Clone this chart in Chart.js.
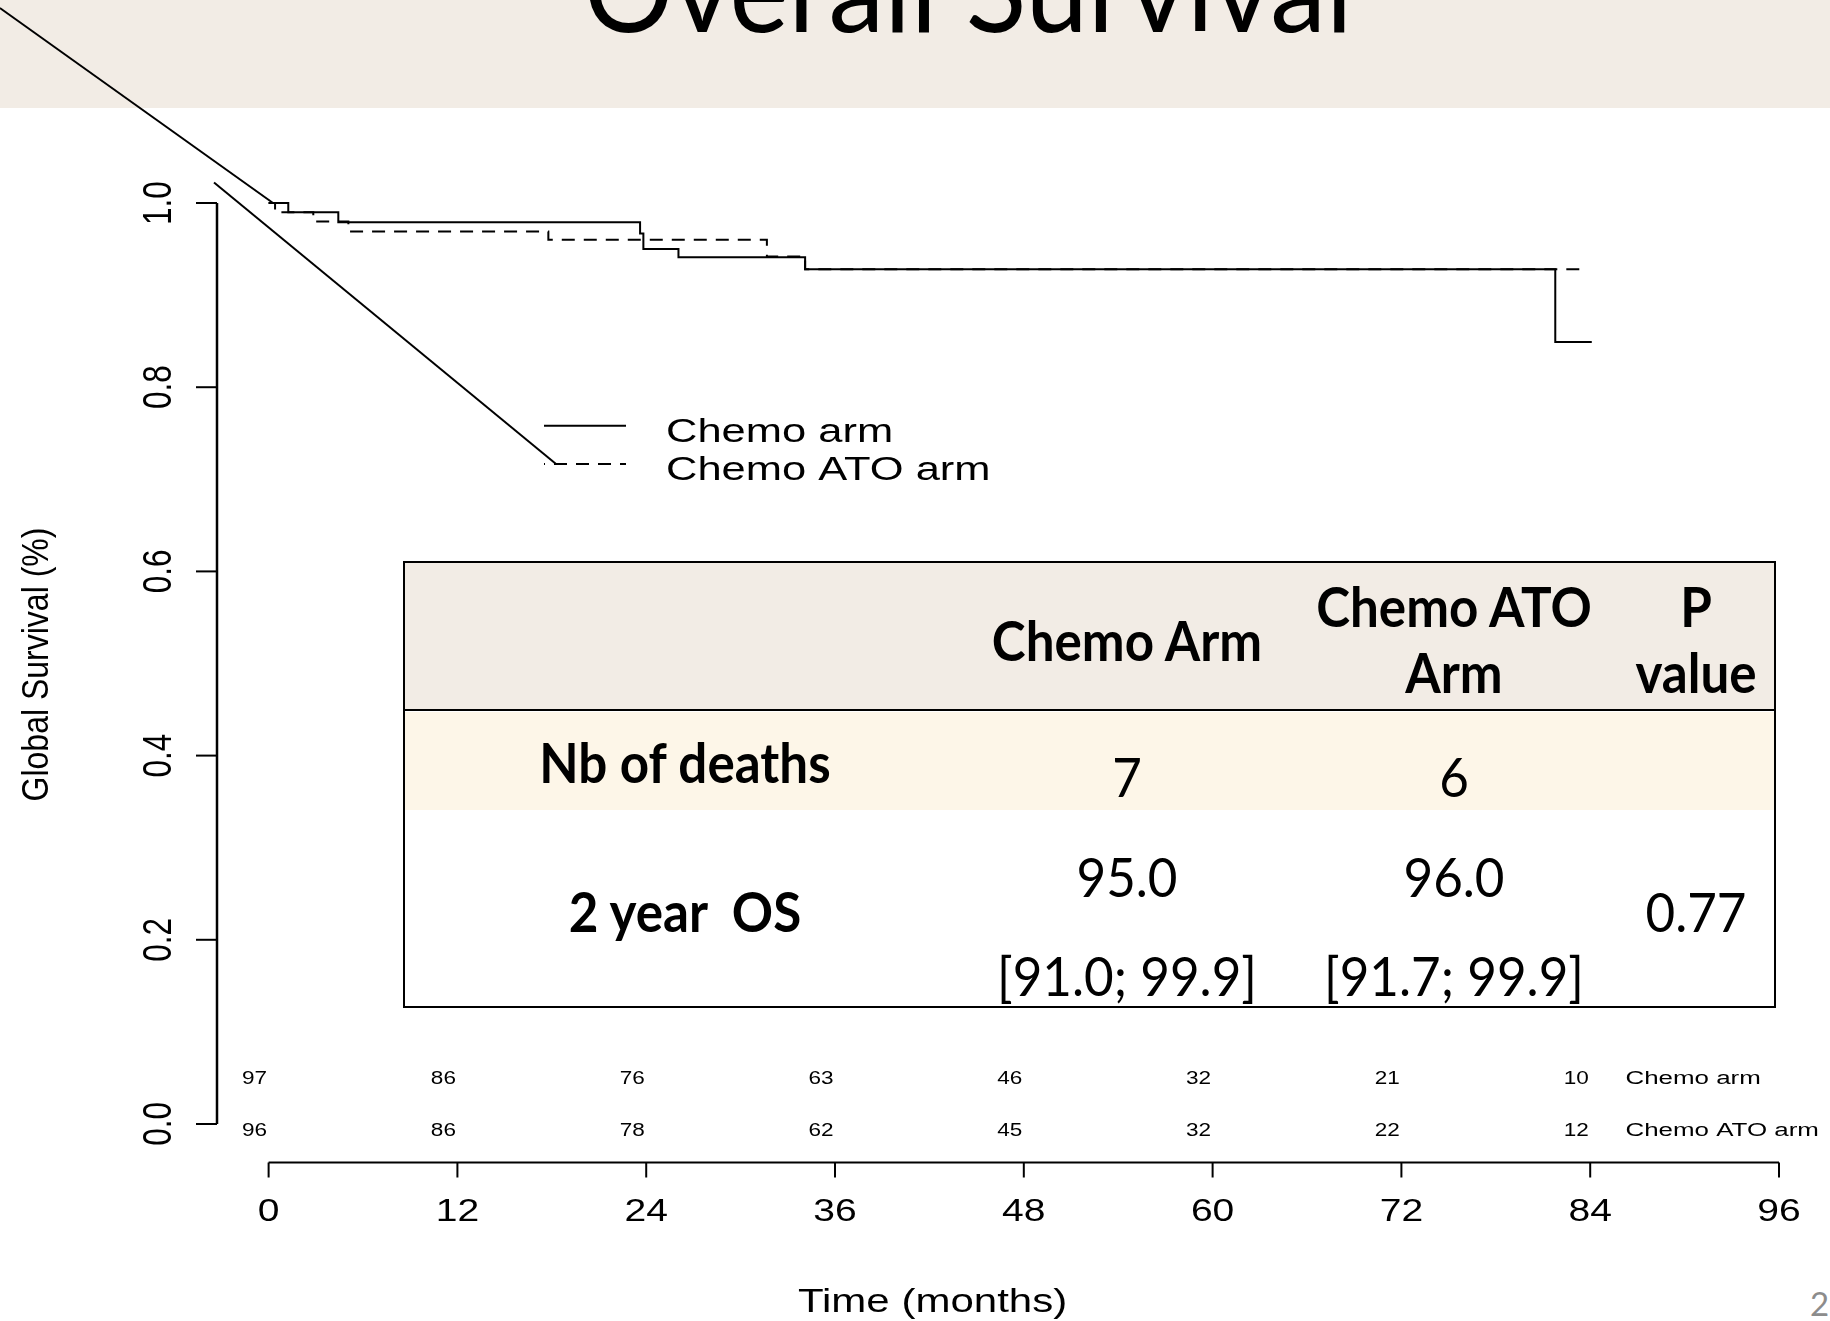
<!DOCTYPE html>
<html>
<head>
<meta charset="utf-8">
<title>Overall Survival</title>
<script src="https://cdn.jsdelivr.net/npm/chart.js@4.4.1/dist/chart.umd.min.js"></script>
<style>
  html, body { margin: 0; padding: 0; background: #fff; overflow: hidden; }
  #page { position: relative; width: 1830px; height: 1321px; overflow: hidden; background: #fff; }
  #band { position: absolute; left: 0; top: 0; width: 1830px; height: 108px; background: #F2ECE5; }
  .t { position: absolute; white-space: nowrap; line-height: 1; transform-origin: 50% 50%;
       font-family: Lato, "Open Sans", sans-serif; color: #000; }
  #box { position: absolute; left: 403px; top: 561px; width: 1373px; height: 447px;
         box-sizing: border-box; border: 2.5px solid #000; background: #fff; }
  #head { position: absolute; left: 0; top: 0; right: 0; height: 146px; background: #F2ECE5;
          border-bottom: 2.5px solid #000; }
  #row2 { position: absolute; left: 0; top: 148.5px; right: 0; height: 98px; background: #FDF6E8; }
  #chart { position: absolute; left: 0; top: 0; z-index: 5; pointer-events: none; }
  #slideNo { position: absolute; left: 1810px; top: 1287px; font: 33px Lato, sans-serif; color: #8c8c8c; line-height: 1; }
</style>
</head>
<body>
<div id="page">
  <div id="band"></div>
  <div id="box"><div id="head"></div><div id="row2"></div></div>
  <div id="slideNo">23</div>
  <canvas id="chart" width="1830" height="1321"></canvas>
</div>
<script>
// Kaplan-Meier steps: month of each event and survival after it
const chemoMonths   = [0, 1.25, 4.43, 23.61, 23.82, 26.05, 34.10, 81.78, 84.10];
const chemoSurvival = [1.000, 0.990, 0.979, 0.967, 0.950, 0.941, 0.928, 0.849, 0.849];
const atoMonths     = [0, 0.41, 2.84, 5.07, 17.78, 31.67, 34.10, 83.60];
const atoSurvival   = [1.000, 0.990, 0.980, 0.969, 0.960, 0.942, 0.928, 0.928];

// axes
const monthTicks    = [0, 12, 24, 36, 48, 60, 72, 84, 96];
const survivalTicks = [0.0, 0.2, 0.4, 0.6, 0.8, 1.0];
const riskMonths    = [0, 12, 24, 36, 48, 60, 72, 84];

// numbers at risk
const atRiskChemo = [97, 86, 76, 63, 46, 32, 21, 10];
const atRiskAto   = [96, 86, 78, 62, 45, 32, 22, 12];
const armNames    = ['Chemo arm', 'Chemo ATO arm'];

// summary table
const deaths    = [7, 6];
const os2Year   = ['95.0', '96.0'];
const os2YearCI = ['[91.0; 99.9]', '[91.7; 99.9]'];
const pValue    = '0.77';

const ARIAL = '"Liberation Sans", Arial, Helvetica, sans-serif';

// text drawn with a horizontal stretch; (cx, cy) is the cap-height centre
function stretchText(ctx, str, cx, cy, size, sx, align, angle) {
  ctx.save();
  ctx.translate(cx, cy);
  ctx.scale(sx, 1);
  if (angle) ctx.rotate(angle);
  ctx.font = size + 'px ' + ARIAL;
  ctx.textAlign = align;
  ctx.textBaseline = 'alphabetic';
  ctx.fillText(str, 0, 0.358 * size);
  ctx.restore();
}

function seg(ctx, x1, y1, x2, y2) {
  ctx.beginPath(); ctx.moveTo(x1, y1); ctx.lineTo(x2, y2); ctx.stroke();
}

// pointer strokes from the slide, in chart units (month, survival)
const pointerA = [[-17.08, 1.2117], [0.28, 1.0]];
const pointerB = [[-3.47, 1.0223], [18.27, 0.7166]];

const survivalDecor = {
  id: 'survivalDecor',
  afterDraw(chart) {
    const { ctx, chartArea: ca, scales: { x, y } } = chart;
    ctx.save();
    ctx.strokeStyle = '#000';
    ctx.fillStyle = '#000';
    ctx.lineCap = 'butt';

    // y axis
    ctx.lineWidth = 2.5;
    const ax = ca.left;
    seg(ctx, ax, y.getPixelForValue(0), ax, y.getPixelForValue(1));
    ctx.lineWidth = 2;
    survivalTicks.forEach(v => {
      const py = y.getPixelForValue(v);
      seg(ctx, ax - 21, py, ax, py);
      stretchText(ctx, v.toFixed(1), ax - 61, py, 31.5, 1.3, 'center', -Math.PI / 2);
    });
    stretchText(ctx, 'Global Survival (%)', 35, y.getPixelForValue(0.5) + 1, 32, 1.15, 'center', -Math.PI / 2);

    // x axis
    const ay = ca.bottom + 1.5;
    ctx.lineWidth = 2.2;
    seg(ctx, x.getPixelForValue(0), ay, x.getPixelForValue(96), ay);
    ctx.lineWidth = 2;
    monthTicks.forEach(m => {
      const px = x.getPixelForValue(m);
      seg(ctx, px, ay, px, ay + 15);
      stretchText(ctx, String(m), px, ay + 47.5, 32, 1.22, 'center');
    });
    stretchText(ctx, 'Time (months)', x.getPixelForValue(42.2), ay + 138, 32.6, 1.29, 'center');

    // numbers at risk
    [atRiskChemo, atRiskAto].forEach((row, r) => {
      const cy = ay - 85.5 + r * 52.3;
      row.forEach((n, i) => {
        stretchText(ctx, String(n), x.getPixelForValue(riskMonths[i]) - 1.5, cy, 18.8, 1.2, 'right');
      });
      stretchText(ctx, armNames[r], x.getPixelForValue(86.24), cy, 18.8, 1.38, 'left');
    });

    // legend
    const lx1 = 544, lx2 = 626;
    ctx.lineWidth = 2;
    seg(ctx, lx1, 425.7, lx2, 425.7);
    ctx.setLineDash([13, 9]);
    ctx.lineDashOffset = -10;
    seg(ctx, lx1, 464, lx2, 464);
    ctx.setLineDash([]);
    stretchText(ctx, armNames[0], 666, 430, 32.7, 1.33, 'left');
    stretchText(ctx, armNames[1], 666, 468, 32.7, 1.33, 'left');

    // pointer strokes
    ctx.lineWidth = 2;
    [pointerA, pointerB].forEach(p => {
      seg(ctx, x.getPixelForValue(p[0][0]), y.getPixelForValue(p[0][1]),
               x.getPixelForValue(p[1][0]), y.getPixelForValue(p[1][1]));
    });
    ctx.restore();
  }
};

const toPoints = (xs, ys) => xs.map((t, i) => ({ x: t, y: ys[i] }));

new Chart(document.getElementById('chart'), {
  type: 'line',
  data: {
    datasets: [
      { label: armNames[0], data: toPoints(chemoMonths, chemoSurvival), stepped: 'before',
        borderColor: '#000', borderWidth: 2, pointRadius: 0, fill: false },
      { label: armNames[1], data: toPoints(atoMonths, atoSurvival), stepped: 'before',
        borderColor: '#000', borderWidth: 2, borderDash: [13, 9], pointRadius: 0, fill: false }
    ]
  },
  options: {
    responsive: false,
    animation: false,
    devicePixelRatio: 1,
    layout: { padding: { left: 217, right: 40, top: 166, bottom: 160 } },
    scales: {
      x: { type: 'linear', min: -3.2805, max: 96.699, display: false },
      y: { type: 'linear', min: -0.0402, max: 1.0402, display: false }
    },
    plugins: { legend: { display: false }, tooltip: { enabled: false } }
  },
  plugins: [survivalDecor]
});

// slide title and summary table
const page = document.getElementById('page');
function place(str, cx, cy, size, weight, kx) {
  const d = document.createElement('div');
  d.className = 't';
  d.textContent = str;
  d.style.left = cx + 'px';
  d.style.top = (cy - 0.53 * size) + 'px';
  d.style.fontSize = size + 'px';
  d.style.fontWeight = weight;
  d.style.transform = 'translateX(-50%) scaleX(' + kx + ')';
  page.appendChild(d);
  return d;
}

const title = place('Overall Survival', 968, 33 - 0.358 * 118, 118, 400, 0.95);
title.style.zIndex = 1;

const K = 0.93;
const colX = [685, 1127.4, 1454, 1696];
place('Chemo Arm', colX[1], 642, 55, 700, K);
place('Chemo ATO', colX[2], 608, 55, 700, K);
place('Arm', colX[2], 674.6, 55, 700, K);
place('P', colX[3], 608, 55, 700, K);
place('value', colX[3], 674.6, 55, 700, K);
place('Nb of deaths', colX[0], 764.5, 55, 700, K);
place(String(deaths[0]), colX[1], 778.5, 55, 400, K);
place(String(deaths[1]), colX[2], 778.5, 55, 400, K);
place('2 year\u00a0 OS', colX[0], 912.7, 55, 700, K);
place(os2Year[0], colX[1], 877.7, 55, 400, K);
place(os2Year[1], colX[2], 877.7, 55, 400, K);
place(os2YearCI[0], colX[1], 976.9, 55, 400, K);
place(os2YearCI[1], colX[2], 976.9, 55, 400, K);
place(pValue, colX[3], 912.7, 55, 400, K);
</script>
</body>
</html>
